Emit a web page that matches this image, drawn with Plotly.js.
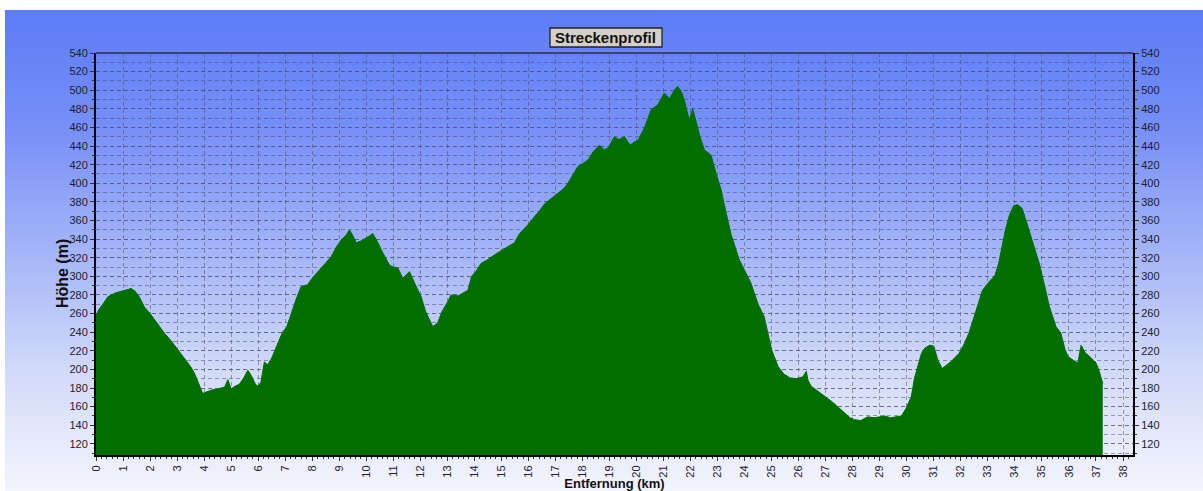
<!DOCTYPE html>
<html>
<head>
<meta charset="utf-8">
<script src="https://cdn.plot.ly/plotly-3.0.1.min.js"></script>
<style>
  html, body { margin: 0; padding: 0; background: #ffffff; }
  #bg { position: absolute; left: 5px; top: 10px; right: 0; bottom: 0;
        width: 1198px; height: 481px;
        background: linear-gradient(to bottom, #5b7cf6 0%, #7890f7 25%, #a4b4f8 50%, #d2daf9 75%, #f3f4fc 100%); }
  #chart { position: absolute; left: 0; top: 0; width: 1203px; height: 491px; }
</style>
</head>
<body>
<div id="bg"></div>
<div id="chart"></div>
<script>
const distanceKm = [0,0.1,0.25,0.44,0.7,1.0,1.2,1.3,1.45,1.6,1.79,2.0,2.2,2.53,2.8,3.03,3.3,3.5,3.64,3.8,3.95,4.1,4.3,4.5,4.76,4.88,5.0,5.15,5.3,5.45,5.62,5.75,5.9,5.99,6.1,6.23,6.35,6.5,6.67,6.9,7.05,7.22,7.4,7.59,7.83,8.0,8.3,8.5,8.7,8.9,9.1,9.25,9.38,9.5,9.63,9.8,9.93,10.1,10.24,10.4,10.6,10.86,11.0,11.17,11.35,11.6,11.8,12.03,12.2,12.46,12.64,12.8,13.0,13.14,13.4,13.6,13.76,13.9,14.05,14.25,14.5,14.74,14.9,15.1,15.3,15.48,15.65,15.8,16.0,16.22,16.4,16.6,16.85,17.08,17.3,17.46,17.65,17.83,18.0,18.2,18.4,18.63,18.8,18.95,19.18,19.35,19.55,19.76,19.9,20.05,20.3,20.54,20.78,20.95,21.03,21.22,21.4,21.52,21.65,21.77,21.95,22.08,22.2,22.35,22.51,22.76,22.95,23.13,23.3,23.5,23.8,24.23,24.5,24.72,25.0,25.24,25.45,25.67,25.9,26.16,26.28,26.35,26.46,26.7,26.95,27.2,27.44,27.7,27.9,28.06,28.3,28.55,28.8,29.0,29.17,29.4,29.6,29.8,29.97,30.17,30.28,30.54,30.67,30.85,31.0,31.15,31.31,31.45,31.62,31.93,32.1,32.3,32.55,32.8,33.1,33.25,33.4,33.65,33.8,33.96,34.1,34.27,34.52,34.7,34.9,35.1,35.27,35.52,35.7,35.85,35.96,36.15,36.33,36.45,36.6,36.76,37.0,37.1,37.19,37.25];
const elevationM = [258,264,270,278,282,284,286,287,284,278,267,260,252,239,230,221,211,203,196,185,174,176,178,179,181,189,179,182,184,190,199,193,184,182,186,208,205,212,224,240,245,260,275,289,291,298,308,315,321,332,340,344,350,344,336,338,340,343,346,338,326,312,310,309,298,305,292,278,262,246,250,262,272,280,279,282,285,300,305,314,318,323,326,330,333,336,345,350,356,364,370,378,384,389,394,400,410,418,421,425,434,441,436,438,450,447,450,441,444,446,460,479,484,494,497,491,500,504,499,489,468,480,466,450,436,430,410,393,370,345,318,293,270,257,221,203,195,191,190,192,198,188,182,177,171,166,160,153,148,146,145,149,148,149,150,148,149,150,158,171,190,217,223,226,225,210,201,204,208,217,226,239,262,285,296,300,314,350,366,376,377,373,350,332,314,290,268,246,239,222,214,210,207,226,218,214,207,200,189,185];
const xTickVals = [0,1,2,3,4,5,6,7,8,9,10,11,12,13,14,15,16,17,18,19,20,21,22,23,24,25,26,27,28,29,30,31,32,33,34,35,36,37,38];
const yTickVals = [120,140,160,180,200,220,240,260,280,300,320,340,360,380,400,420,440,460,480,500,520,540];
const chartTitle = "Streckenprofil";
const xTitle = "Entfernung (km)";
const yTitle = "Höhe (m)";

const fontFam = "Liberation Sans, Arial, sans-serif";
const tickFont = {family: fontFam, size: 11, color: "#1e2030"};
const gridCol = "rgba(70,70,100,0.5)";
const dashPat = "4px,3px";

const traces = [
  {x: distanceKm, y: elevationM, type: "scatter", mode: "lines", fill: "tozeroy",
   fillcolor: "#006e00", line: {color: "#006e00", width: 1}, hoverinfo: "x+y", showlegend: false},
  {x: distanceKm, y: elevationM, type: "scatter", mode: "lines", yaxis: "y2",
   line: {color: "rgba(0,0,0,0)", width: 0}, hoverinfo: "skip", showlegend: false}
];

const layout = {
  width: 1203, height: 491,
  margin: {l: 96, r: 70, t: 53, b: 36},
  paper_bgcolor: "rgba(0,0,0,0)",
  plot_bgcolor: "rgba(0,0,0,0)",
  showlegend: false,
  xaxis: {
    range: [0, 38.37], tickvals: xTickVals, ticktext: xTickVals.map(String),
    tickangle: -90, tickfont: tickFont, ticks: "outside", ticklen: 4, tickcolor: "#333",
    showgrid: true, gridcolor: gridCol, griddash: dashPat, gridwidth: 1,
    minor: {dtick: 0.2, ticks: "outside", ticklen: 2, tickcolor: "#333", showgrid: false},
    showline: true, linecolor: "#000", linewidth: 2, zeroline: false,
    title: {text: "<b>" + xTitle + "</b>", font: {family: fontFam, size: 13, color: "#111"}, standoff: 2},
    automargin: false
  },
  yaxis: {
    range: [108, 540], tickvals: yTickVals, tickfont: tickFont,
    ticks: "outside", ticklen: 4, tickcolor: "#333",
    showgrid: true, gridcolor: gridCol, griddash: dashPat, gridwidth: 1,
    minor: {dtick: 10, ticks: "outside", ticklen: 2, tickcolor: "#333", showgrid: true, gridcolor: gridCol, griddash: dashPat, gridwidth: 1},
    showline: true, linecolor: "#000", linewidth: 2, zeroline: false,
    automargin: false
  },
  yaxis2: {
    range: [108, 540], tickvals: yTickVals, tickfont: tickFont, overlaying: "y", side: "right",
    ticks: "outside", ticklen: 4, tickcolor: "#333",
    minor: {dtick: 10, ticks: "outside", ticklen: 2, tickcolor: "#333"},
    showgrid: false, showline: true, linecolor: "#000", linewidth: 2, zeroline: false,
    automargin: false
  },
  shapes: [
    {type: "line", xref: "paper", yref: "paper", x0: 0, x1: 1, y0: 1, y1: 1,
     line: {color: "#3c4270", width: 2}},
    {type: "rect", xref: "paper", yref: "paper", x0: 0.4378, x1: 0.5458, y0: 1.0149, y1: 1.0622,
     fillcolor: "#d4d0c8", line: {color: "#222", width: 1.3}, layer: "above"}
  ],
  annotations: [
    {text: "<b>" + chartTitle + "</b>", xref: "paper", yref: "paper", x: 0.4918, y: 1.0386,
     xanchor: "center", yanchor: "middle", showarrow: false,
     font: {family: fontFam, size: 15, color: "#111"}},
    {text: "<b>" + yTitle + "</b>", xref: "paper", yref: "paper", x: 0, xshift: -34, y: 0.45,
     xanchor: "center", yanchor: "middle", textangle: -90, showarrow: false,
     font: {family: fontFam, size: 16, color: "#111"}}
  ]
};

Plotly.newPlot("chart", traces, layout, {displayModeBar: false, staticPlot: true});
</script>
</body>
</html>
